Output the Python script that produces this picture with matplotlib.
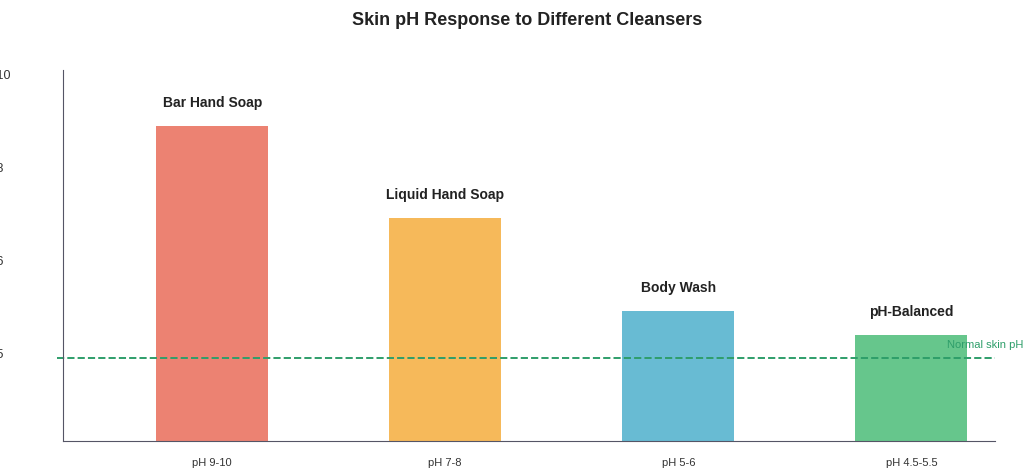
import matplotlib
matplotlib.use("Agg")
import matplotlib.pyplot as plt

categories = ["Bar Hand Soap", "Liquid Hand Soap", "Body Wash", "pH-Balanced"]
ph_ranges = ["pH 9-10", "pH 7-8", "pH 5-6", "pH 4.5-5.5"]
# heights on the chart's evenly spaced scale (one step per tick label)
heights = [3.4, 2.4, 1.4, 1.14]
colors = ["#EC8272", "#F6B95A", "#68BBD3", "#66C68C"]
tick_pos = [-0.06, 0.94, 1.94, 2.95, 3.95]
tick_labels = ["pH 4", "pH 5", "pH 6", "pH 8", "pH 10"]
normal_level = 0.89

plt.rcParams["font.family"] = ["Liberation Sans", "DejaVu Sans"]
fig = plt.figure(figsize=(10.24, 4.72), dpi=100)
ax = fig.add_axes([0.0615, 0.066, 0.9105, 0.786])

x = list(range(len(categories)))
ax.bar(x, heights, width=0.48, color=colors)
for xi, h, name in zip(x, heights, categories):
    ax.text(xi, h + 0.17, name, ha="center", va="bottom", fontsize=10, fontweight="bold", color="#222222")

ax.axhline(normal_level, xmin=-0.006, xmax=1, color="#2E9E6A", linestyle="--", linewidth=1.4, clip_on=False)
fig.text(0.999, (0.066 + 0.786 * (normal_level + 0.09) / 4), "Normal skin pH", ha="right", va="bottom",
         fontsize=8, color="#2E9E6A")

ax.set_xticks(x)
ax.set_xticklabels(ph_ranges, fontsize=8, color="#333333")
ax.set_yticks(tick_pos)
ax.set_yticklabels(tick_labels, fontsize=9, color="#333333")
ax.set_xlim(-0.64, 3.36)
ax.set_ylim(0, 4)
ax.tick_params(axis="both", length=0)
ax.tick_params(axis="x", pad=12)
ax.tick_params(axis="y", pad=62)
for lab in ax.get_yticklabels():
    lab.set_horizontalalignment("left")
for s in ["top", "right"]:
    ax.spines[s].set_visible(False)
for s in ["left", "bottom"]:
    ax.spines[s].set_color("#555566")

fig.text(0.515, 0.975, "Skin pH Response to Different Cleansers", ha="center", va="top",
         fontsize=13, fontweight="bold", color="#222222")
fig.savefig("out.png", dpi=100)
